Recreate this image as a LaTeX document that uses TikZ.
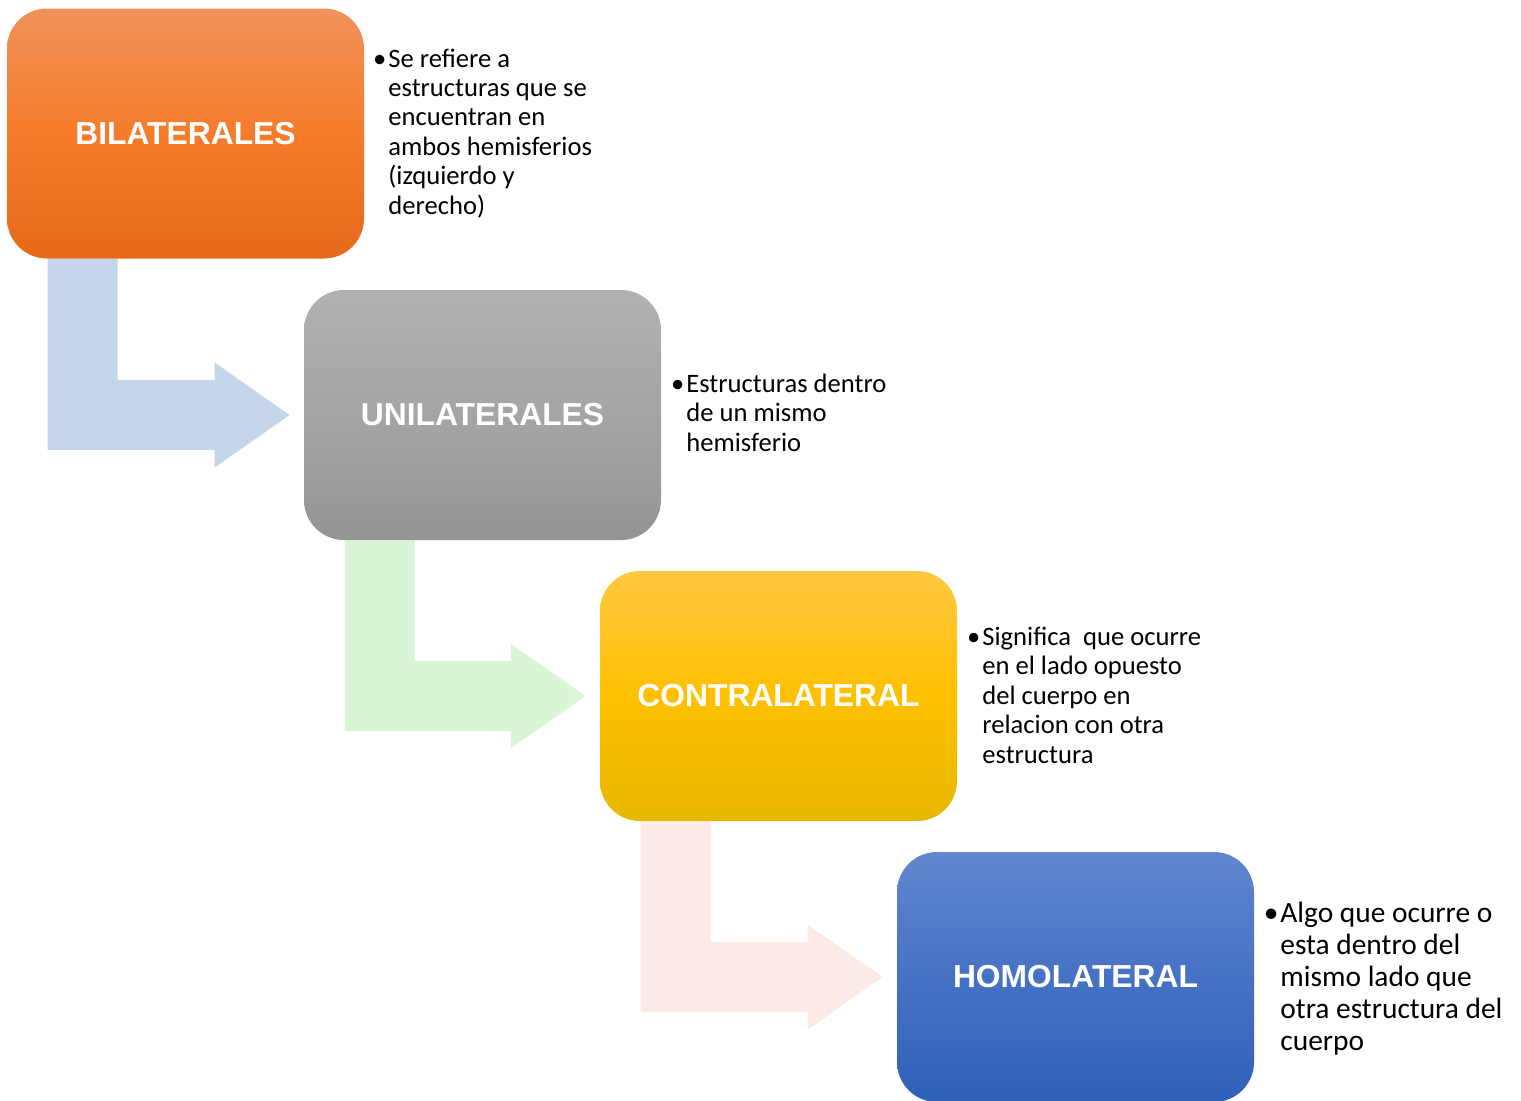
\documentclass[tikz,border=0pt]{standalone}
\usepackage{fontspec}
\setmainfont{Carlito}
\newfontfamily\cajafont{Liberation Sans}
\usetikzlibrary{calc,backgrounds}

\definecolor{naranjaA}{RGB}{241,146,90}
\definecolor{naranjaB}{RGB}{245,124,42}
\definecolor{naranjaC}{RGB}{229,105,25}
\definecolor{grisA}{RGB}{177,177,177}
\definecolor{grisB}{RGB}{165,165,165}
\definecolor{grisC}{RGB}{148,148,148}
\definecolor{amarilloA}{RGB}{255,200,66}
\definecolor{amarilloB}{RGB}{255,192,0}
\definecolor{amarilloC}{RGB}{230,184,0}
\definecolor{azulA}{RGB}{98,134,207}
\definecolor{azulB}{RGB}{70,114,196}
\definecolor{azulC}{RGB}{47,96,185}
\definecolor{flechaAzul}{RGB}{197,213,234}
\definecolor{flechaVerde}{RGB}{216,245,213}
\definecolor{flechaRosa}{RGB}{251,234,230}

\tikzset{
  caja/.style={rectangle, rounded corners=20pt, minimum width=178.5pt,
    minimum height=125pt, text=white,
    font=\cajafont\bfseries\fontsize{15.9}{18}\selectfont},
  nota/.style={anchor=base west, align=left, inner sep=0pt,
    font=\fontsize{13.3}{14.7}\selectfont},
}

% flecha doblada de una caja a la siguiente
\newcommand{\flecha}[3]{%
  \fill[#3] ($(#1.south west)+(41,0)$) -- ++(70,0)
    |- ($(#2.west)+(-89,-35)$) -- ++(0,-17.5)
    -- ($(#2.west)+(-14,0)$) -- ($(#2.west)+(-89,52.5)$)
    -- ++(0,-17.5) -| ($(#1.south west)+(41,0)$) -- cycle;}

\begin{document}
\begin{tikzpicture}[x=0.5pt,y=-0.5pt]
  \useasboundingbox (0,0) rectangle (1521,1100);

  \node[caja, top color=naranjaA, bottom color=naranjaC, middle color=naranjaB]
    (bil) at (185.5,133.5) {BILATERALES};
  \node[caja, top color=grisA, bottom color=grisC, middle color=grisB]
    (uni) at (482.5,415) {UNILATERALES};
  \node[caja, top color=amarilloA, bottom color=amarilloC, middle color=amarilloB]
    (con) at (778.5,696) {CONTRALATERAL};
  \node[caja, top color=azulA, bottom color=azulC, middle color=azulB]
    (hom) at (1075.5,977) {HOMOLATERAL};

  \begin{scope}[on background layer]
    \flecha{bil}{uni}{flechaAzul}
    \flecha{uni}{con}{flechaVerde}
    \flecha{con}{hom}{flechaRosa}
  \end{scope}

  % notas: el ancla es la linea base de la ultima linea
  \node[nota] (tbil) at (388,214) {\llap{\textbullet\hspace{1pt}}Se refiere a\\
    estructuras que se\\encuentran en\\ambos hemisferios\\(izquierdo y\\derecho)};
  \node[nota] (tuni) at (686,451) {\llap{\textbullet\hspace{1pt}}Estructuras dentro\\
    de un mismo\\hemisferio};
  \node[nota] (tcon) at (982,763) {\llap{\textbullet\hspace{1pt}}Significa\ \ que ocurre\\
    en el lado opuesto\\del cuerpo en\\relacion con otra\\estructura};
  \node[nota, font=\fontsize{14.7}{16}\selectfont] (thom) at (1280,1050)
    {\llap{\textbullet\hspace{1pt}}Algo que ocurre o\\esta dentro del\\
    mismo lado que\\otra estructura del\\cuerpo};
\end{tikzpicture}
\end{document}
